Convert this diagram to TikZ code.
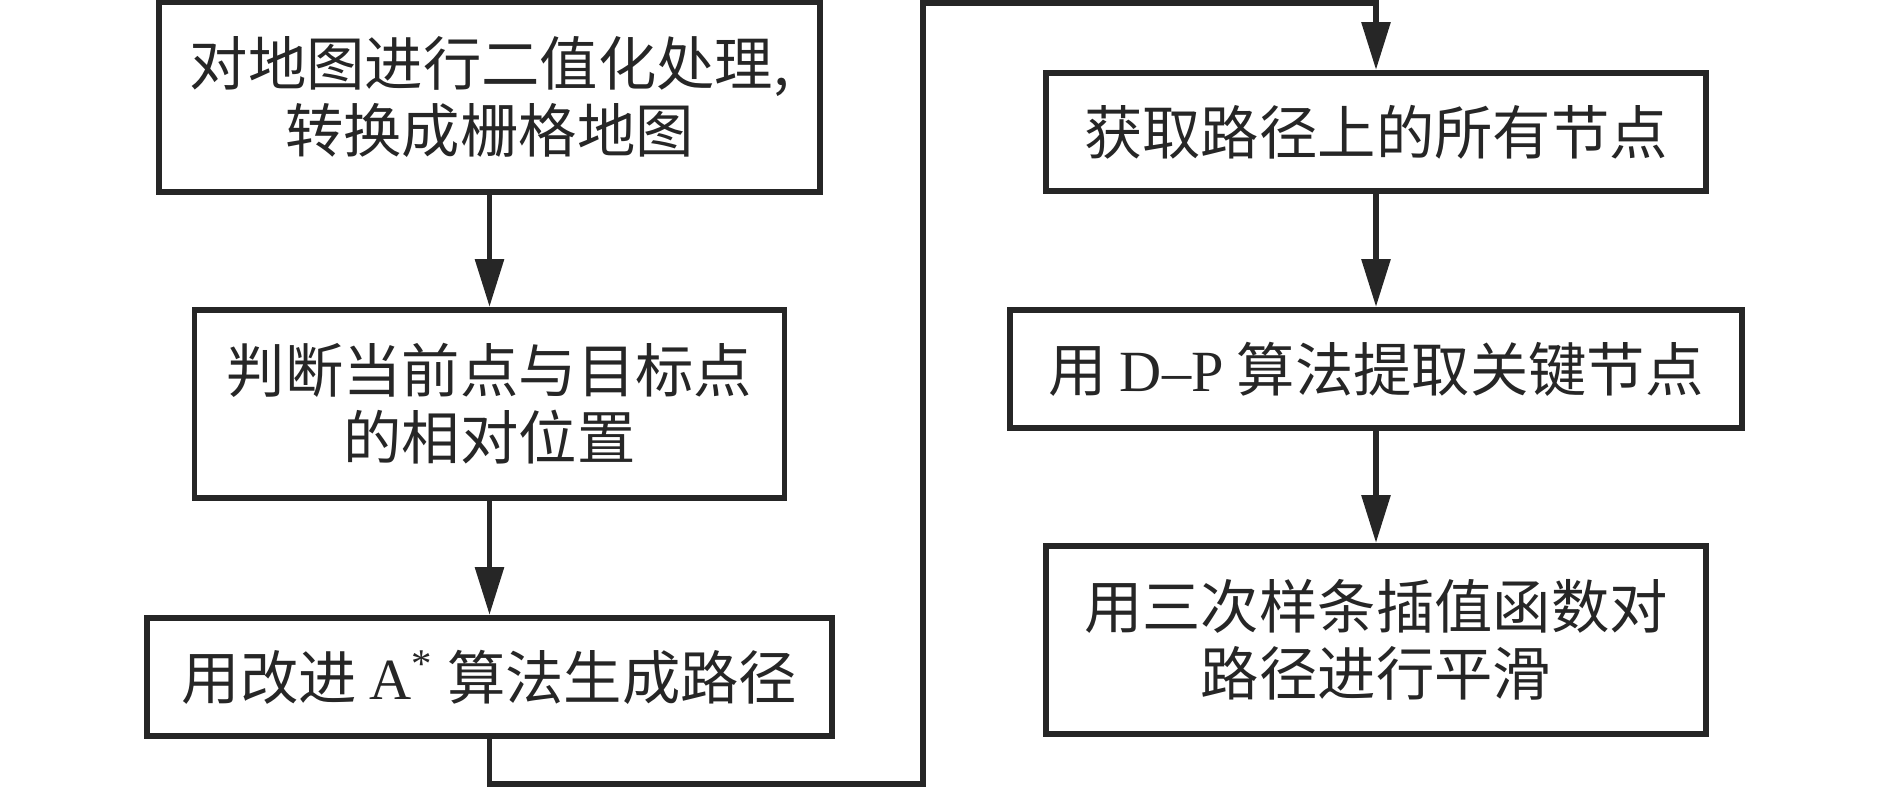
\documentclass[tikz,border=0pt]{standalone}
\usepackage{fontspec}
\setmainfont{Noto Sans CJK SC}
\newfontfamily\latin{Liberation Serif}
\usetikzlibrary{arrows.meta}
\definecolor{ink}{HTML}{262626}
\tikzset{
  procbox/.style={draw=ink, text=ink, line width=1.7pt, inner sep=0pt,
    align=center, font=\fontsize{16.6pt}{19pt}\selectfont},
  flowarrow/.style={draw=ink, line width=1.7pt,
    -{Triangle[length=0.48cm, width=0.28cm]}}
}
\begin{document}
\begin{tikzpicture}
  \useasboundingbox (0,0) rectangle (18.9,-7.87);
  % left column
  \node[procbox, minimum width=6.61cm, minimum height=1.90cm] (map) at (4.895,-0.97)
    {对地图进行二值化处理,\\转换成栅格地图};
  \node[procbox, minimum width=5.90cm, minimum height=1.88cm] (relpos) at (4.895,-4.04)
    {判断当前点与目标点\\的相对位置};
  \node[procbox, minimum width=6.85cm, minimum height=1.18cm] (astar) at (4.895,-6.77)
    {用改进 {\latin A\textsuperscript{*}} 算法生成路径};
  % right column
  \node[procbox, minimum width=6.60cm, minimum height=1.18cm] (allnodes) at (13.76,-1.32)
    {获取路径上的所有节点};
  \node[procbox, minimum width=7.32cm, minimum height=1.18cm] (dpkey) at (13.76,-3.69)
    {用 {\latin D–P} 算法提取关键节点};
  \node[procbox, minimum width=6.60cm, minimum height=1.88cm] (spline) at (13.76,-6.40)
    {用三次样条插值函数对\\路径进行平滑};
  \coordinate (low) at (9.23,-7.84);
  \coordinate (high) at (9.23,-0.025);
  \begin{scope}[flowarrow]
    \draw (map) -- (relpos);
    \draw (relpos) -- (astar);
    \draw (astar.south) |- (low) -- (high) -| (allnodes.north);
    \draw (allnodes) -- (dpkey);
    \draw (dpkey) -- (spline);
  \end{scope}
\end{tikzpicture}
\end{document}
